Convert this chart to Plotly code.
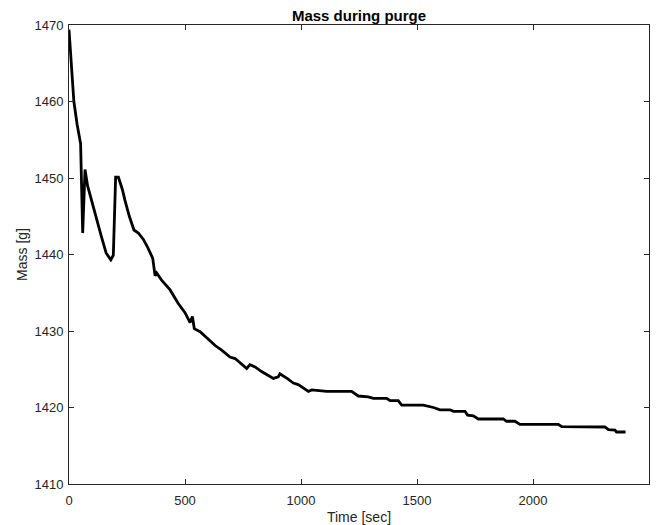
import plotly.graph_objects as go

time_sec = [0, 10, 21, 35, 50, 59, 69, 80, 98, 119, 140, 160, 180, 191, 201, 213, 230, 241, 260, 280,
            299, 320, 338, 361, 371, 378, 400, 435, 471, 500, 522, 532, 540, 565, 590, 608, 630, 658,
            694, 716, 740, 766, 780, 802, 830, 866, 881, 902, 909, 940, 967, 988, 1010, 1032, 1046,
            1082, 1111, 1218, 1247, 1290, 1312, 1369, 1384, 1419, 1434, 1527, 1571, 1599, 1642, 1657,
            1707, 1718, 1743, 1764, 1872, 1886, 1922, 1944, 2109, 2124, 2188, 2310, 2325, 2353, 2360, 2399]
mass_g = [1469.4, 1465.5, 1460.0, 1457.0, 1454.5, 1442.8, 1451.1, 1449.0, 1446.9, 1444.5, 1442.3, 1440.2,
          1439.3, 1439.9, 1450.1, 1450.1, 1448.5, 1447.1, 1445.0, 1443.2, 1442.8, 1442.0, 1441.0, 1439.5,
          1437.2, 1437.6, 1436.6, 1435.4, 1433.6, 1432.4, 1431.1, 1431.9, 1430.3, 1429.9, 1429.2, 1428.6,
          1428.1, 1427.5, 1426.6, 1426.4, 1425.8, 1425.1, 1425.6, 1425.3, 1424.7, 1424.0, 1423.8, 1424.0,
          1424.4, 1423.8, 1423.2, 1423.0, 1422.6, 1422.1, 1422.3, 1422.2, 1422.1, 1422.1, 1421.5, 1421.4,
          1421.2, 1421.2, 1420.9, 1420.9, 1420.3, 1420.3, 1420.0, 1419.7, 1419.7, 1419.5, 1419.5, 1419.0,
          1418.9, 1418.5, 1418.5, 1418.2, 1418.2, 1417.8, 1417.8, 1417.5, 1417.45, 1417.45, 1417.1,
          1417.05, 1416.8, 1416.8]

x_ticks = [0, 500, 1000, 1500, 2000, 2500]
y_ticks = [1410, 1420, 1430, 1440, 1450, 1460, 1470]

FONT = "Liberation Sans, Arial, Helvetica, sans-serif"

fig = go.Figure()
fig.add_trace(go.Scatter(x=time_sec, y=mass_g, mode="lines",
                         line=dict(color="black", width=2.8), showlegend=False))

axis_common = dict(showline=True, linecolor="#262626", linewidth=1, mirror="ticks",
                   ticks="inside", ticklen=5, tickcolor="#262626", showgrid=False, zeroline=False,
                   automargin=False,
                   tickfont=dict(family=FONT, size=13, color="#262626"))

fig.update_xaxes(range=[0, 2500], tickvals=x_ticks, ticklabelstandoff=4,
                 title=dict(text="Time [sec]", standoff=5,
                            font=dict(family=FONT, size=14, color="#262626")),
                 **axis_common)
fig.update_yaxes(range=[1410, 1470], tickvals=y_ticks, ticklabelstandoff=2,
                 title=dict(text="Mass [g]", standoff=3,
                            font=dict(family=FONT, size=14, color="#262626")),
                 **axis_common)

fig.update_layout(
    width=662, height=525,
    margin=dict(l=69, r=13, t=25, b=41),
    paper_bgcolor="white", plot_bgcolor="white",
    title=dict(text="<b>Mass during purge</b>", x=0.5, xref="paper", y=1, yref="paper",
               yanchor="bottom", pad=dict(b=4),
               font=dict(family=FONT, size=15, color="black")),
)

fig.write_html("out.html")
